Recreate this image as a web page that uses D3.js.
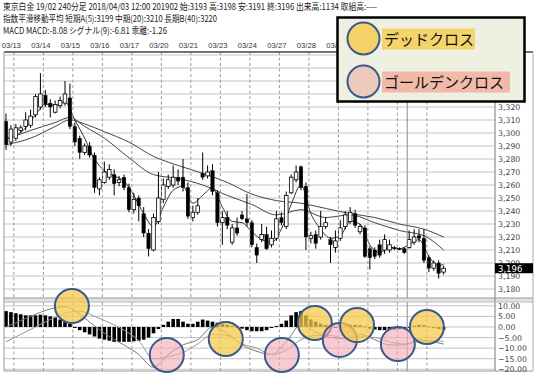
<!DOCTYPE html>
<html><head><meta charset="utf-8">
<script src="https://cdn.jsdelivr.net/npm/d3@7"></script>
<style>body{margin:0;background:#fff;} svg{display:block;}</style>
</head><body>
<svg id="c" width="542" height="380"></svg>
<script>
// ---------- DATA ----------
const headerLines = [
  "東京白金 19/02 240分足 2018/04/03 12:00 201902 始:3193 高:3198 安:3191 終:3196 出来高:1134 取組高:----",
  "指数平滑移動平均 短期A(5):3199 中期(20):3210 長期B(40):3220",
  "MACD MACD:-8.08 シグナル(9):-6.81 乖離:-1.26"
];
// visible date labels (the later ones are hidden behind the legend box)
const dateLabels = ["03/13","03/14","03/15","03/16","03/17","03/20","03/21","03/23","03/24","03/27","03/28","03/29"];
const dayLinePos = [1.6,7.6,13.6,19.6,25.6,31.6,37.6,43.6,49.6,55.6,61.6,67.6,73.6,79.6,85.6];
const monthLinePos = [81.6];

const opens  = [3309,3293,3296,3302,3305,3306,3314,3320,3329,3323,3316,3321,3323,3327,3305,3296,3285,3290,3283,3257,
                3262,3266,3268,3262,3266,3258,3241,3250,3238,3223,3210,3232,3249,3259,3260,3266,3266,3258,3235,3239,
                3269,3267,3271,3254,3231,3235,3216,3227,3237,3234,3231,3212,3218,3222,3214,3219,3235,3228,3254,3264,
                3274,3259,3219,3222,3220,3228,3218,3212,3219,3228,3232,3238,3224,3227,3211,3210,3214,3210,3210,3212,
                3211,3211,3212,3216,3221,3219,3204,3196,3200,3193];
const highs  = [3315,3306,3307,3306,3316,3318,3330,3346,3333,3326,3325,3328,3340,3338,3308,3298,3292,3293,3285,3266,
                3278,3276,3272,3267,3268,3261,3254,3252,3243,3226,3238,3270,3265,3268,3275,3272,3280,3262,3244,3250,
                3285,3275,3276,3256,3240,3240,3230,3235,3240,3253,3233,3215,3230,3228,3225,3240,3239,3255,3268,3275,
                3275,3262,3224,3225,3240,3235,3220,3225,3233,3240,3243,3241,3230,3229,3213,3212,3218,3222,3218,3213,
                3212,3212,3225,3226,3226,3226,3206,3202,3202,3198];
const lows   = [3287,3290,3294,3300,3302,3304,3312,3318,3320,3312,3315,3319,3321,3303,3290,3280,3283,3281,3254,3252,
                3261,3264,3252,3259,3256,3239,3238,3232,3220,3205,3209,3230,3246,3257,3258,3260,3255,3234,3232,3237,
                3264,3265,3252,3228,3214,3226,3214,3221,3233,3228,3212,3200,3216,3210,3212,3217,3229,3226,3253,3262,
                3256,3210,3215,3211,3218,3226,3200,3208,3217,3226,3230,3227,3222,3204,3195,3203,3204,3207,3208,3210,
                3210,3207,3211,3214,3216,3200,3193,3194,3188,3191];
const closes = [3291,3303,3304,3304,3310,3313,3328,3330,3322,3320,3322,3325,3330,3305,3293,3285,3290,3283,3258,3264,
                3270,3272,3261,3264,3258,3241,3249,3244,3223,3211,3235,3250,3260,3264,3266,3263,3258,3236,3239,3244,
                3266,3270,3255,3231,3235,3229,3227,3223,3234,3231,3214,3206,3222,3211,3219,3234,3231,3252,3266,3270,
                3258,3220,3221,3215,3228,3231,3214,3217,3227,3237,3239,3229,3228,3205,3204,3205,3206,3218,3214,3211,
                3211,3208,3218,3220,3219,3202,3196,3200,3192,3196];

// moving averages (read at sample bars)
const maIdxLong = [0,5,10,13,16,20,25,30,35,40,45,50,55,60,65,70,75,80,85,89];
const emaLong   = [3291,3296,3305,3310,3307,3301,3293,3282,3275,3269,3262,3253,3248,3246,3242,3238,3235,3230,3226,3220];
const emaMid    = [3295,3302,3308,3312,3305,3296,3281,3268,3265,3260,3252,3245,3237,3241,3235,3237,3231,3225,3221,3210];
const maIdxShort = [0,2,4,6,8,10,12,14,16,18,20,22,24,26,28,30,32,34,36,38,40,42,44,46,48,50,52,54,56,58,60,62,64,66,68,70,72,74,76,78,80,82,84,86,88,89];
const emaShort   = [3296,3298,3304,3314,3322,3321,3324,3310,3296,3280,3271,3267,3263,3252,3238,3228,3243,3256,3259,3246,3252,3258,3243,3232,3231,3224,3218,3216,3226,3245,3260,3238,3226,3219,3221,3232,3230,3214,3208,3212,3211,3214,3218,3205,3198,3199];

// MACD
const histogram = [7.5,7,6.5,6,5.5,5.5,5.5,5.8,5.5,5,4.5,3.5,2.5,1.5,-0.5,-1.5,-2.5,-3.5,-4.5,-5.5,
                   -6,-6.5,-7,-7,-7,-7,-6.8,-6.5,-6,-5,-3,-1,1,2.5,3.8,3.8,2.5,1.5,1.5,2.5,
                   3.5,3,2.5,2,1.5,1,0.5,-0.3,-0.8,-1.5,-2,-2,-2,-1.5,-0.5,0.5,1.5,3,5.5,7,
                   7.5,5.5,3.5,2.5,1.5,1,0.5,0,0.3,0.5,1,1,0.8,0.2,-0.8,-1.2,-1.5,-1.5,-1.3,-1.2,
                   -1,-0.8,-0.3,0.5,1,0.8,0.2,-0.4,-0.9,-1.26];
const macdIdx = [0,3,6,9,12,15,18,21,24,27,30,33,36,39,42,45,48,51,54,57,60,63,66,69,72,75,78,81,84,87,89];
const macdLine   = [0,3,6,8.5,9.5,6,0.5,-4.5,-8.5,-13,-19,-13,-8.5,-6,0,-3,-8.5,-11.5,-13,-7,1,-2.5,-5,-5.5,-3.5,-6,-8.5,-8.5,-6,-7,-8.08];
const signalLine = [-7,-3.5,0,3.5,6.5,7.5,5,2,-1.5,-6.5,-15,-14,-12,-8,-3.5,-4,-8,-10,-13,-11,-6,-4,-4,-5.5,-4.5,-5,-7,-8,-7,-6.5,-6.81];

// cross annotations: [bar position, MACD value]
const deadCross   = [[13.4,9.9],[44.7,-5.7],[62.8,1.9],[71.4,0.9],[85.6,0]];
const goldenCross = [[32.7,-13.2],[56.1,-13.2],[67.9,-6.1],[79.7,-8.0]];
const legendItems = ["デッドクロス","ゴールデンクロス"];

const priceGrid = d3.range(3180, 3361, 10);
const priceLabels = d3.range(3180, 3321, 10);   // labels above 3,320 sit behind the legend
const macdTicks = [10,5,0,-5,-10,-15,-20];
const lastPrice = 3196;

// ---------- DRAW ----------
const svg = d3.select("#c");
const L = 4, R = 495, RB = 533;
const mainTop = 52, mainBot = 298, mTop = 302, mBot = 371;

const x = d3.scaleLinear().domain([0, 89]).range([6, 443.6]);
const y = d3.scaleLinear().domain([3180, 3270]).range([289, 172]);
const ym = d3.scaleLinear().domain([-20, 10]).range([369.3, 305.8]);

const defs = svg.append("defs");
defs.append("clipPath").attr("id","cm").append("rect").attr("x",L).attr("y",mainTop).attr("width",R-L).attr("height",mainBot-mainTop);
defs.append("clipPath").attr("id","cd").append("rect").attr("x",L).attr("y",mTop).attr("width",R-L).attr("height",mBot-mTop);

// header
const hdrW = [374, 214, 164];
svg.selectAll("text.hdr").data(headerLines).join("text")
  .attr("x", 3).attr("y", (d,i)=>10 + i*12)
  .attr("textLength",(d,i)=>hdrW[i]).attr("lengthAdjust","spacingAndGlyphs")
  .style("font-family","'Noto Sans CJK JP'").style("font-size","9px").style("fill","#222")
  .text(d=>d);

// date labels
svg.selectAll("text.dt").data(dateLabels).join("text")
  .attr("x",(d,i)=>x(dayLinePos[i]) - 2.5).attr("y",47.5).attr("text-anchor","middle")
  .style("font-family","'Liberation Sans', Arial").style("font-size","7.6px").style("fill","#333")
  .text(d=>d);

// main grid
const gm = svg.append("g").attr("clip-path","url(#cm)");
gm.selectAll("line.h").data(priceGrid).join("line")
  .attr("x1",L).attr("x2",R).attr("y1",d=>y(d)).attr("y2",d=>y(d))
  .attr("stroke","#c4c4c4").attr("stroke-width",1);
const gd = svg.append("g").attr("clip-path","url(#cd)");
gd.selectAll("line.h").data(macdTicks).join("line")
  .attr("x1",L).attr("x2",R).attr("y1",d=>ym(d)).attr("y2",d=>ym(d))
  .attr("stroke","#c4c4c4").attr("stroke-width",1);

// vertical day lines
[[mainTop,mainBot],[mTop,mBot]].forEach(([t,b])=>{
  svg.append("g").selectAll("line").data(dayLinePos).join("line")
    .attr("x1",d=>x(d)).attr("x2",d=>x(d)).attr("y1",t).attr("y2",b)
    .attr("stroke","#9a9a9a").attr("stroke-dasharray","3,2.5").attr("stroke-width",1);
  svg.append("g").selectAll("line").data(monthLinePos).join("line")
    .attr("x1",d=>x(d)).attr("x2",d=>x(d)).attr("y1",t).attr("y2",b)
    .attr("stroke","#8a8a8a").attr("stroke-width",1);
});

// moving averages
const lineGen = (idx, vals, ys) => d3.line().x((d,i)=>x(idx[i])).y(d=>ys(d)).curve(d3.curveMonotoneX)(vals);
gm.append("path").attr("d",lineGen(maIdxLong,emaLong,y)).attr("fill","none").attr("stroke","#444").attr("stroke-width",1);
gm.append("path").attr("d",lineGen(maIdxLong,emaMid,y)).attr("fill","none").attr("stroke","#444").attr("stroke-width",1);
gm.append("path").attr("d",lineGen(maIdxShort,emaShort,y)).attr("fill","none").attr("stroke","#333").attr("stroke-width",1);

// candles
const bars = opens.map((o,i)=>({i,o,h:highs[i],l:lows[i],c:closes[i]}));
const cg = gm.append("g");
cg.selectAll("line.w").data(bars).join("line")
  .attr("x1",d=>x(d.i)).attr("x2",d=>x(d.i)).attr("y1",d=>y(d.h)).attr("y2",d=>y(d.l))
  .attr("stroke","#000").attr("stroke-width",1);
cg.selectAll("rect.b").data(bars).join("rect")
  .attr("x",d=>x(d.i)-1.8).attr("width",3.6)
  .attr("y",d=>y(Math.max(d.o,d.c)))
  .attr("height",d=>Math.max(1, Math.abs(y(d.o)-y(d.c))))
  .attr("fill",d=>d.c>d.o?"#fff":"#000")
  .attr("stroke","#000").attr("stroke-width",d=>d.c>d.o?0.8:0.3);

// MACD histogram
gd.selectAll("rect.hb").data(histogram).join("rect")
  .attr("x",(d,i)=>x(i)-1.8).attr("width",3.6)
  .attr("y",d=>ym(Math.max(0,d))).attr("height",d=>Math.max(0.8,Math.abs(ym(d)-ym(0))))
  .attr("fill","#000");
gd.append("path").attr("d",lineGen(macdIdx,macdLine,ym)).attr("fill","none").attr("stroke","#777").attr("stroke-width",1);
gd.append("path").attr("d",lineGen(macdIdx,signalLine,ym)).attr("fill","none").attr("stroke","#999").attr("stroke-width",1);

// frame
svg.append("rect").attr("x",L).attr("y",mainBot).attr("width",RB-L).attr("height",mTop-mainBot).attr("fill","#e2e2e2");
const fr = [
  [L,mainTop,RB,mainTop,"#444",1.5],[L,mainTop,L,mBot,"#999",1],[R,mainTop,R,mBot,"#777",1],
  [RB,mainTop,RB,mBot,"#aaa",1],[L,mainBot,RB,mainBot,"#999",1],[L,mTop,RB,mTop,"#bbb",1],[L,mBot,RB,mBot,"#999",1]
];
svg.append("g").selectAll("line").data(fr).join("line")
  .attr("x1",d=>d[0]).attr("y1",d=>d[1]).attr("x2",d=>d[2]).attr("y2",d=>d[3])
  .attr("stroke",d=>d[4]).attr("stroke-width",d=>d[5]);

// axis labels
const fmtP = d3.format(",");
svg.append("g").selectAll("text").data(priceLabels).join("text")
  .attr("x",498).attr("y",d=>y(d)+3).text(d=>fmtP(d))
  .style("font-family","'DejaVu Sans'").style("font-size","7.8px").style("fill","#444");
svg.append("g").selectAll("text").data(macdTicks).join("text")
  .attr("x",498).attr("y",d=>ym(d)+3).text(d=>d3.format(".2f")(d))
  .style("font-family","'DejaVu Sans'").style("font-size","7.8px").style("fill","#444");

// last price
svg.append("rect").attr("x",R).attr("y",y(lastPrice)-5).attr("width",RB-R).attr("height",10).attr("fill","#000");
svg.append("text").attr("x",498).attr("y",y(lastPrice)+3.5).text(fmtP(lastPrice))
  .style("font-family","'DejaVu Sans'").style("font-size","8.5px").style("fill","#fff");

// cross circles
const allC = deadCross.map(d=>({p:d,t:"d"})).concat(goldenCross.map(d=>({p:d,t:"g"}))).sort((a,b)=>a.p[0]-b.p[0]);
svg.append("g").selectAll("circle").data(allC).join("circle")
  .attr("cx",d=>x(d.p[0])).attr("cy",d=>ym(d.p[1])).attr("r",17)
  .attr("fill",d=>d.t==="d"?"#f4c94a":"#f4aab4").attr("fill-opacity",d=>d.t==="d"?0.75:0.62)
  .attr("stroke","#3b5a8c").attr("stroke-width",2);

// legend
const lg = svg.append("g");
lg.append("rect").attr("x",337.5).attr("y",17.5).attr("width",187).attr("height",84)
  .attr("fill","#eef0e1").attr("stroke","#000").attr("stroke-width",2.5);
const lgY = [38.5, 81.5];
const lgBg = ["#f5d46c","#f1b9a8"];
const lgCircle = ["#f6d168","#eecabd"];
const lgW = [93, 128];
legendItems.forEach((t,i)=>{
  lg.append("rect").attr("x",382).attr("y",lgY[i]-10).attr("width",lgW[i]).attr("height",21).attr("fill",lgBg[i]);
  lg.append("circle").attr("cx",363.5).attr("cy",lgY[i]).attr("r",16).attr("fill",lgCircle[i])
    .attr("stroke","#3b5a8c").attr("stroke-width",2);
  lg.append("text").attr("x",384).attr("y",lgY[i]+6).text(t)
    .style("font-family","'Noto Sans CJK JP'").style("font-size","15px").style("fill","#111");
});
</script>
</body></html>
